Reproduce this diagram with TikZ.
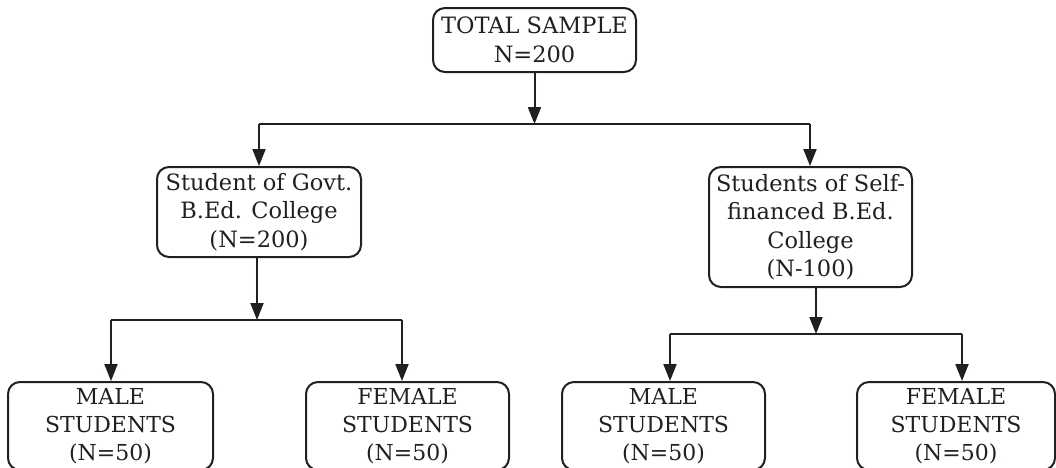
\documentclass[tikz,border=0pt]{standalone}
\usepackage{fontspec}
\setmainfont{DejaVu Serif}
\usetikzlibrary{arrows.meta,calc}
\definecolor{ink}{RGB}{35,31,32}
\begin{document}
\begin{tikzpicture}[x=1pt,y=-1pt,
  box/.style={draw=ink, text=ink, line width=2pt, rounded corners=12pt,
    align=center, inner sep=1pt, font=\fontsize{22.5}{28.5}\selectfont},
  leaf/.style={box, minimum height=88pt, anchor=north,
    font=\fontsize{22}{28}\selectfont},
  conn/.style={draw=ink, line width=2pt},
  arr/.style={conn, -{Triangle[length=17pt,width=13pt]}}]
\clip (0,0) rectangle (1056,467);
\node[box, minimum width=203pt, minimum height=64pt] (top) at (534.5,40) {TOTAL SAMPLE\\N=200};
\node[box, minimum width=204pt, minimum height=90pt] (gov) at (259,212) {Student of Govt.\\B.Ed. College\\(N=200)};
\node[box, minimum width=203pt, minimum height=120pt] (self) at (810.5,227) {Students of Self-\\financed B.Ed.\\College\\(N-100)};
\node[leaf, minimum width=205pt] (b1) at (110.5,381) {MALE\\STUDENTS\\(N=50)};
\node[leaf, minimum width=203pt] (b2) at (407.5,381) {FEMALE\\STUDENTS\\(N=50)};
\node[leaf, minimum width=203pt] (b3) at (663.5,381) {MALE\\STUDENTS\\(N=50)};
\node[leaf, minimum width=198pt] (b4) at (956,381) {FEMALE\\STUDENTS\\(N=50)};
% junctions
\coordinate (j0) at (534.5,124);
\coordinate (j0l) at (259,124);
\coordinate (j0r) at (810,124);
\coordinate (j1) at (257,320);
\coordinate (j1l) at (111,320);
\coordinate (j1r) at (402,320);
\coordinate (j2) at (816,334);
\coordinate (j2l) at (670,334);
\coordinate (j2r) at (962,334);
% connectors
\draw[arr] (top.south) -- (j0);
\draw[conn] (j0l) -- (j0r);
\draw[arr] (j0l) -- (j0l |- gov.north);
\draw[arr] (j0r) -- (j0r |- self.north);
\draw[arr] (j1 |- gov.south) -- (j1);
\draw[conn] (j1l) -- (j1r);
\draw[arr] (j1l) -- (j1l |- b1.north);
\draw[arr] (j1r) -- (j1r |- b2.north);
\draw[arr] (j2 |- self.south) -- (j2);
\draw[conn] (j2l) -- (j2r);
\draw[arr] (j2l) -- (j2l |- b3.north);
\draw[arr] (j2r) -- (j2r |- b4.north);
\end{tikzpicture}
\end{document}
